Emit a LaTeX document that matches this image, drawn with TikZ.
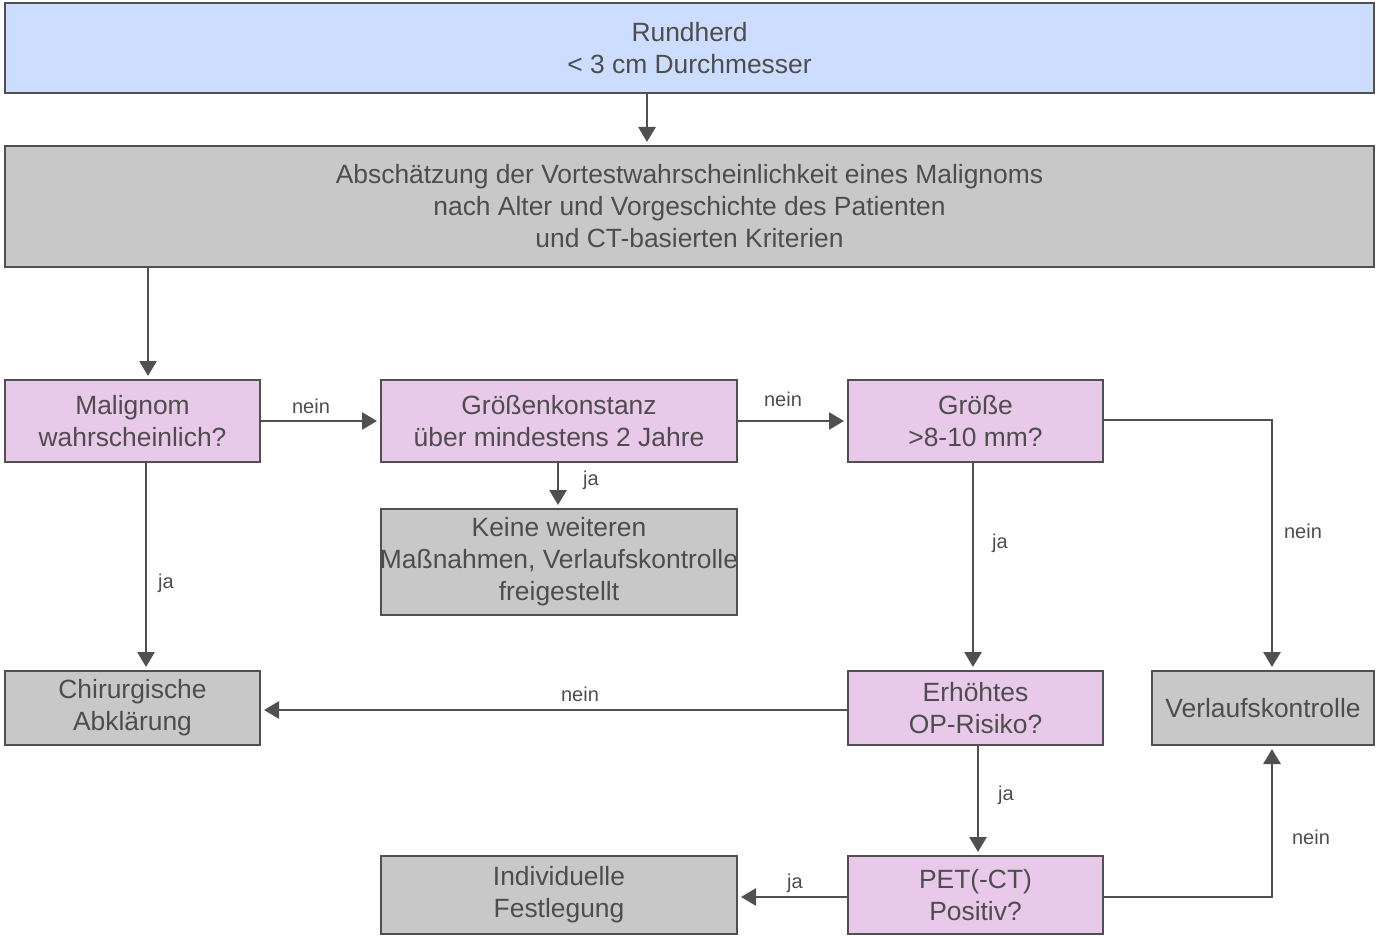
\documentclass[tikz,border=0pt]{standalone}
\usepackage{fontspec}
\setmainfont{Liberation Sans}
\usetikzlibrary{arrows.meta}
\definecolor{inkgray}{HTML}{4D4D4D}
\definecolor{linegray}{HTML}{505050}
\definecolor{startblue}{HTML}{CCDDFF}
\definecolor{stepgray}{HTML}{C8C8C8}
\definecolor{askpink}{HTML}{E9C9E9}
\tikzset{
  box/.style={draw=linegray, line width=2pt, inner sep=0pt, align=center,
    text=inkgray, font=\fontsize{26.4}{32}\selectfont},
  startbox/.style={box, fill=startblue},
  grey box/.style={box, fill=stepgray},
  askbox/.style={box, fill=askpink},
  conn/.style={draw=linegray, line width=2.8pt,
    -{Triangle[length=15pt,width=17pt]}, shorten >=3pt},
  lbl/.style={text=inkgray, font=\fontsize{20}{24}\selectfont, inner sep=0pt}
}
\begin{document}
\begin{tikzpicture}[x=1pt, y=-1pt]
\useasboundingbox (0,0) rectangle (1376,936);

% boxes
\node[startbox, minimum width=1369pt, minimum height=90pt] (rund) at (689.5,48)
  {Rundherd\\< 3 cm Durchmesser};
\node[grey box, minimum width=1369pt, minimum height=121pt] (absch) at (689.5,206.5)
  {Abschätzung der Vortestwahrscheinlichkeit eines Malignoms\\nach Alter und Vorgeschichte des Patienten\\und CT-basierten Kriterien};
\node[askbox, minimum width=255pt, minimum height=82pt] (malig) at (132.5,421)
  {Malignom\\wahrscheinlich?};
\node[askbox, minimum width=356pt, minimum height=82pt] (konst) at (559,421)
  {Größenkonstanz\\über mindestens 2 Jahre};
\node[askbox, minimum width=255pt, minimum height=82pt] (groe) at (975.5,421)
  {Größe\\>8-10 mm?};
\node[grey box, minimum width=356pt, minimum height=106pt] (keine) at (559,562)
  {Keine weiteren\\\makebox[350pt][c]{Maßnahmen, Verlaufskontrolle}\\freigestellt};
\node[grey box, minimum width=255pt, minimum height=74pt] (chir) at (132.5,708)
  {Chirurgische\\Abklärung};
\node[askbox, minimum width=255pt, minimum height=74pt] (erh) at (975.5,708)
  {Erhöhtes\\OP-Risiko?};
\node[grey box, minimum width=222pt, minimum height=74pt] (verl) at (1263,708)
  {Verlaufskontrolle};
\node[grey box, minimum width=356pt, minimum height=78pt] (indiv) at (559,895)
  {Individuelle\\Festlegung};
\node[askbox, minimum width=255pt, minimum height=78pt] (pet) at (975.5,895)
  {PET(-CT)\\Positiv?};

% connectors
\draw[conn] ([xshift=-42.5pt]rund.south) -- ([xshift=-42.5pt]absch.north);
\draw[conn] ([xshift=15.5pt]absch.south -| malig.north) -- ([xshift=15.5pt]malig.north);
\draw[conn] (malig.east) -- (konst.west);
\draw[conn] (konst.east) -- (groe.west);
\draw[conn] ([xshift=-1pt]konst.south) -- ([xshift=-1pt]keine.north);
\draw[conn] ([xshift=13.5pt]malig.south) -- ([xshift=13.5pt]chir.north);
\draw[conn] ([xshift=-2.5pt]groe.south) -- ([xshift=-2.5pt]erh.north);
\draw[conn] ([yshift=1pt]groe.east) -| ([xshift=9pt]verl.north);
\draw[conn] ([yshift=-2pt]erh.west) -- ([yshift=-2pt]erh.west -| chir.east);
\draw[conn] ([xshift=2.5pt]erh.south) -- ([xshift=2.5pt]pet.north);
\draw[conn] ([yshift=-2pt]pet.west) -- ([yshift=-2pt]pet.west -| indiv.east);
\draw[conn] ([yshift=-2pt]pet.east) -| ([xshift=9pt]verl.south);

% connector labels
\node[lbl] (l1) at (311,406) {nein};
\node[lbl] (l2) at (783,399) {nein};
\node[lbl] (l3) at (591,480) {ja};
\node[lbl] (l4) at (166,583) {ja};
\node[lbl] (l5) at (1000,543) {ja};
\node[lbl] (l6) at (1303,531) {nein};
\node[lbl] (l7) at (580,694) {nein};
\node[lbl] (l8) at (1006,795) {ja};
\node[lbl] (l9) at (795,883) {ja};
\node[lbl] (l10) at (1311,837) {nein};
\end{tikzpicture}
\end{document}
